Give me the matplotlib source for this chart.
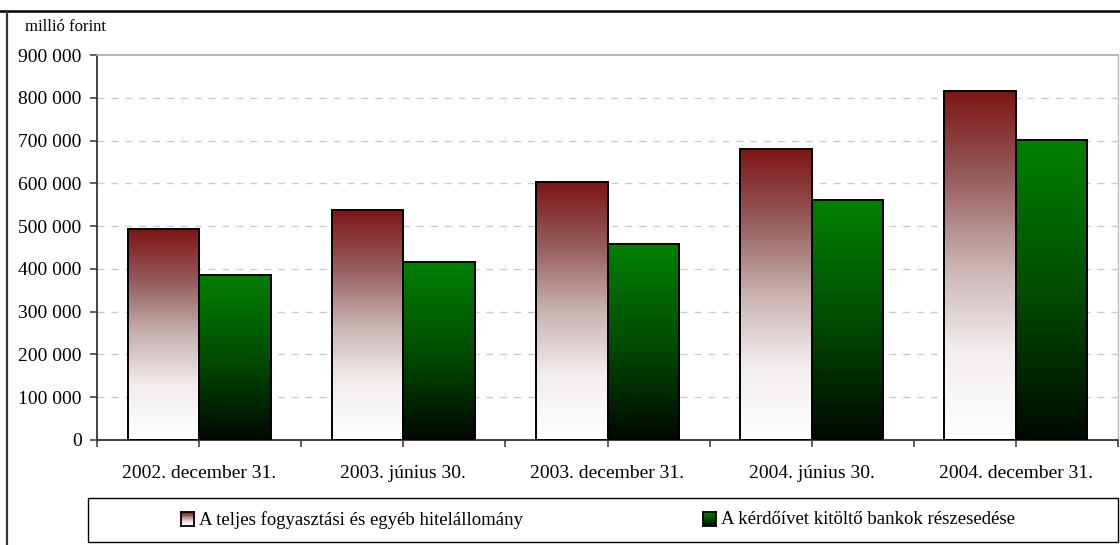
import matplotlib
matplotlib.use("Agg")
import matplotlib.pyplot as plt
import numpy as np
from matplotlib.colors import LinearSegmentedColormap
from matplotlib.patches import Rectangle
from matplotlib.lines import Line2D
from matplotlib.ticker import FuncFormatter, FixedLocator

plt.rcParams.update({
    'font.family': ['Liberation Serif', 'DejaVu Serif'],
    'font.size': 12,
})

# ── Data ──────────────────────────────────────────────────────────
CATEGORIES = ["2002. december 31.", "2003. június 30.", "2003. december 31.",
              "2004. június 30.", "2004. december 31."]
TOTAL = [493000, 537000, 603000, 680000, 816000]
BANKS = [386000, 416000, 458000, 561000, 701000]
SERIES_NAMES = ["A teljes fogyasztási és egyéb hitelállomány",
                "A kérdőívet kitöltő bankok részesedése"]
YTICKS = [0, 100000, 200000, 300000, 400000, 500000, 600000, 700000, 800000, 900000]

# gradients: bottom -> top
CMAP_RED = LinearSegmentedColormap.from_list(
    "red", [(0.0, "#ffffff"), (0.25, "#f3eeee"), (0.5, "#c9b2b2"),
            (0.75, "#965d5d"), (1.0, "#7e1515")])
CMAP_GREEN = LinearSegmentedColormap.from_list(
    "green", [(0.0, "#000800"), (0.5, "#004d00"), (1.0, "#008000")])

W, H = 1120, 545
fig = plt.figure(figsize=(W / 100, H / 100), dpi=100)
ax = fig.add_axes([97 / W, 1 - 440 / H, (1118 - 97) / W, (440 - 55) / H])

x = np.arange(len(CATEGORIES))
bw = 0.35
grad = np.linspace(0, 1, 256).reshape(-1, 1)


def gradient_bars(xpos, vals, cmap):
    bars = ax.bar(xpos, vals, width=bw, facecolor="none", edgecolor="black",
                  linewidth=1.4, zorder=3)
    for b in bars:
        x0, y0 = b.get_x(), b.get_y()
        im = ax.imshow(grad, cmap=cmap, origin="lower", aspect="auto",
                       extent=[x0, x0 + b.get_width(), y0, y0 + b.get_height()],
                       zorder=2, interpolation="bilinear")
        im.set_clip_path(b)
    return bars


gradient_bars(x - bw / 2, TOTAL, CMAP_RED)
gradient_bars(x + bw / 2, BANKS, CMAP_GREEN)

ax.set_xlim(-0.5, len(CATEGORIES) - 0.5)
ax.set_ylim(0, 900000)

ax.set_yticks(YTICKS)
ax.yaxis.set_major_formatter(FuncFormatter(lambda v, p: f"{int(v):,}".replace(",", " ")))
ax.set_xticks(x)
ax.set_xticklabels(CATEGORIES)
ax.xaxis.set_minor_locator(FixedLocator(np.arange(-0.5, len(CATEGORIES), 1.0)))
ax.tick_params(axis="x", which="both", direction="out", length=5, width=1.2,
               color="#444444", pad=13, labelsize=14)
ax.tick_params(axis="y", direction="out", length=5, width=1.2, color="#444444",
               labelsize=14, pad=6)

for v in YTICKS[1:-1]:
    ax.axhline(v, color="#cccccc", linestyle=(0, (5, 5)), linewidth=1.0, zorder=1)

ax.spines["left"].set_color("#333333")
ax.spines["left"].set_linewidth(1.3)
ax.spines["bottom"].set_color("#333333")
ax.spines["bottom"].set_linewidth(1.3)
ax.spines["top"].set_color("#aaaaaa")
ax.spines["top"].set_linewidth(1.2)
ax.spines["right"].set_color("#bbbbbb")
ax.spines["right"].set_linewidth(1.0)

fig.text(25 / W, 1 - 27 / H, "millió forint", fontsize=12, va="center", ha="left")

# outer frame lines
fig.add_artist(Line2D([0, 1], [1 - 11 / H, 1 - 11 / H], color="black", linewidth=1.8,
                      transform=fig.transFigure))
fig.add_artist(Line2D([7 / W, 7 / W], [0, 1 - 11 / H], color="#333333", linewidth=1.6,
                      transform=fig.transFigure))

# legend box
fig.add_artist(Rectangle((88 / W, 1 - 542 / H), (1118 - 88) / W, 44 / H,
                         transform=fig.transFigure, facecolor="none",
                         edgecolor="black", linewidth=1.0, zorder=-1))
for (sx, tx), cmap, name in zip([(181, 199), (703, 721)], [CMAP_RED, CMAP_GREEN], SERIES_NAMES):
    lax = fig.add_axes([sx / W, 1 - 526 / H, 13 / W, 14 / H])
    lax.imshow(grad, cmap=cmap, origin="lower", aspect="auto", extent=[0, 1, 0, 1])
    lax.set_xticks([])
    lax.set_yticks([])
    for s in lax.spines.values():
        s.set_linewidth(1.3)
        s.set_color("black")
    fig.text(tx / W, 1 - 520 / H, name, fontsize=13.5, va="center", ha="left")

fig.savefig("out.png", dpi=100)
